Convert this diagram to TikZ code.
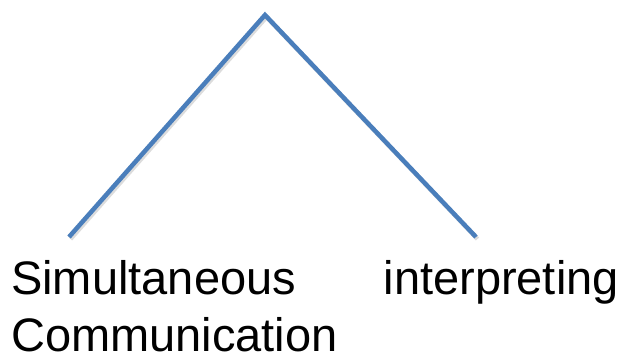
\documentclass[tikz,border=0pt]{standalone}
\usepackage{fontspec}
\setmainfont{Liberation Sans}
\usetikzlibrary{positioning}
\definecolor{branchblue}{HTML}{4A7EBB}
\tikzset{
  branch/.style={draw=branchblue, line width=4.5pt, line join=miter},
  branchshadow/.style={draw=black!30, line width=4.5pt, line join=miter, opacity=.45},
  word/.style={inner sep=0pt, font=\fontsize{47}{56}\selectfont}
}
\begin{document}
\begin{tikzpicture}[x=1pt,y=-1pt]
\useasboundingbox (0,0) rectangle (623,355);
\coordinate (apex) at (265,15);
\coordinate (leftend) at (69,237);
\coordinate (rightend) at (476,237);
% soft shadow under the two branches
\draw[branchshadow] ([shift={(1.5,2)}]leftend) -- ([shift={(1.5,2)}]apex) -- ([shift={(1.5,2)}]rightend);
\draw[branch] (leftend) -- (apex) -- (rightend);
\node[word, anchor=base west] (simul) at (11,294) {Simultaneous};
\node[word, anchor=base east] (interp) at (619,294) {interpreting};
\node[word, anchor=base west] (commun) at (11,351) {Communication};
\end{tikzpicture}
\end{document}
